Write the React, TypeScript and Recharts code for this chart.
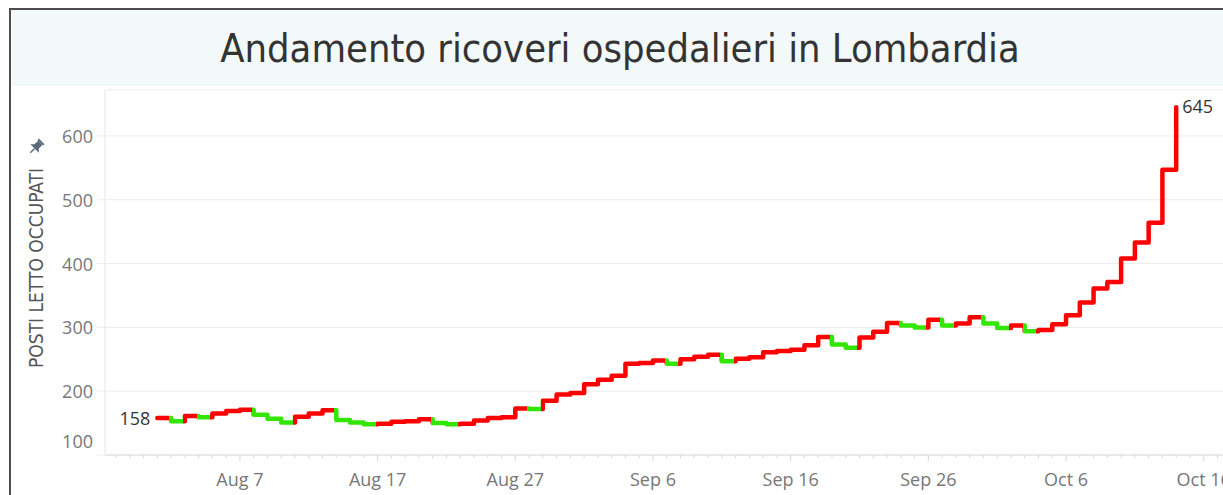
import { LineChart, Line, XAxis, YAxis, CartesianGrid } from 'recharts';

// posti letto occupati, un valore al giorno dal 1 agosto al 14 ottobre
const ricoveri = [
  158, 153, 161, 159, 165, 169, 171, 163, 157, 151, // Aug 1-10
  160, 165, 170, 155, 151, 148, 149, 152, 153, 156, // Aug 11-20
  150, 148, 149, 154, 158, 159, 173, 172, 185, 195, // Aug 21-30
  197, 211, 218, 224, 243, 244, 248, 243, 250, 254, // Aug 31 - Sep 9
  257, 247, 251, 253, 261, 263, 265, 272, 285, 273, // Sep 10-19
  268, 284, 293, 307, 303, 300, 312, 303, 306, 316, // Sep 20-29
  306, 299, 303, 294, 296, 305, 319, 339, 361, 371, // Sep 30 - Oct 9
  408, 433, 464, 547, 645, // Oct 10-14
];

// x = giorni dal 1 agosto
const majorTicks = [6, 16, 26, 36, 46, 56, 66, 76];
const majorLabels = ['Aug 7', 'Aug 17', 'Aug 27', 'Sep 6', 'Sep 16', 'Sep 26', 'Oct 6', 'Oct 16'];
const yTicks = [100, 200, 300, 400, 500, 600];

const X_DOMAIN: [number, number] = [-3.8, 77.4];
const minorTicks: number[] = [];
for (let d = -3; d <= 77; d++) minorTicks.push(d);

const RED = '#ff0000';
const GREEN = '#33e600';
const TICK_FONT = "'Open Sans', sans-serif";
const NARROW_FONT = "'Liberation Sans Narrow', 'DejaVu Sans Condensed', 'Open Sans', sans-serif";

const data = ricoveri.map((v, i) => ({ day: i, v }));
const last = ricoveri.length - 1;

// red when the value went up (or stayed), green when it went down
const segColors = ricoveri.map((v, i) => (i === 0 || v >= ricoveri[i - 1] ? RED : GREEN));

function XTick(props: any) {
  const { x, y, payload } = props;
  const idx = majorTicks.indexOf(payload.value);
  const major = idx >= 0;
  return (
    <g>
      <line x1={x} x2={x} y1={y} y2={y + (major ? 6 : 3)} stroke="#d9d9d9" strokeWidth={1} />
      {major && (
        <text
          x={x}
          y={y + 24}
          textAnchor="middle"
          dominantBaseline="central"
          fontSize={18}
          fontFamily={TICK_FONT}
          fill="#777"
        >
          {majorLabels[idx]}
        </text>
      )}
    </g>
  );
}

function YTick(props: any) {
  const { x, y, payload } = props;
  // Tableau pushes the bottom label up so it stays inside the pane
  const shift = payload.value === 100 ? -14 : 0;
  return (
    <text
      x={x}
      y={y + shift}
      textAnchor="end"
      dominantBaseline="central"
      fontSize={18}
      fontFamily={TICK_FONT}
      fill="#777"
    >
      {payload.value}
    </text>
  );
}

function EndLabel(props: any) {
  const { x, y, index, value } = props;
  if (index === 0) {
    return (
      <text x={x - 7} y={y} textAnchor="end" dominantBaseline="central" fontSize={18} fontFamily={TICK_FONT} fill="#333">
        {value}
      </text>
    );
  }
  if (index === last) {
    return (
      <text x={x + 6} y={y - 1} textAnchor="start" dominantBaseline="central" fontSize={18} fontFamily={TICK_FONT} fill="#333">
        {value}
      </text>
    );
  }
  return null;
}

function App() {
  const stops: JSX.Element[] = [];
  segColors.forEach((c, i) => {
    const from = i === 0 ? 0 : (i - 0.15) / last;
    const to = i === last ? 1 : (i + 1 - 0.15) / last;
    stops.push(<stop key={`a${i}`} offset={from} stopColor={c} />);
    stops.push(<stop key={`b${i}`} offset={to} stopColor={c} />);
  });

  return (
    <div style={{ position: 'relative', width: 1223, height: 495, overflow: 'hidden', background: '#fff' }}>
      <style>{'body{margin:0;overflow:hidden}'}</style>

      {/* title band */}
      <div
        style={{
          position: 'absolute',
          left: 12,
          top: 10,
          width: 1216,
          height: 76,
          background: '#f3f8f8',
          display: 'flex',
          alignItems: 'center',
          justifyContent: 'center',
          fontFamily: NARROW_FONT,
          fontSize: 39.5,
          color: '#333',
        }}
      >
        Andamento ricoveri ospedalieri in Lombardia
      </div>

      <div style={{ position: 'absolute', left: 0, top: 0 }}>
        <LineChart width={1223} height={495} data={data} margin={{ top: 90, right: 0, left: 0, bottom: 0 }}>
          <defs>
            <linearGradient id="trend" x1="0" y1="0" x2="1" y2="0">
              {stops}
            </linearGradient>
          </defs>
          <CartesianGrid vertical={false} stroke="#ececec" />
          <XAxis
            dataKey="day"
            type="number"
            domain={X_DOMAIN}
            allowDataOverflow
            ticks={minorTicks}
            interval={0}
            height={40}
            tickSize={0}
            tickMargin={0}
            tickLine={false}
            axisLine={{ stroke: '#dcdcdc' }}
            tick={<XTick />}
          />
          <YAxis
            type="number"
            domain={[100, 672]}
            ticks={yTicks}
            interval={0}
            width={105}
            tickSize={8}
            tickMargin={4}
            tickLine={{ stroke: '#ececec' }}
            axisLine={{ stroke: '#e6e6e6' }}
            tick={<YTick />}
          />
          <Line
            type="stepAfter"
            dataKey="v"
            stroke="url(#trend)"
            strokeWidth={4.5}
            strokeLinejoin="round"
            strokeLinecap="round"
            dot={false}
            activeDot={false}
            isAnimationActive={false}
            label={<EndLabel />}
          />
        </LineChart>
      </div>

      {/* frame */}
      <div
        style={{
          position: 'absolute',
          left: 9,
          top: 8,
          width: 1240,
          height: 500,
          borderLeft: '2px solid #4d4d4d',
          borderTop: '2px solid #4d4d4d',
          boxSizing: 'border-box',
          pointerEvents: 'none',
        }}
      />

      {/* axis title with pin */}
      <div
        style={{
          position: 'absolute',
          left: 36,
          top: 268,
          transform: 'translate(-50%, -50%) rotate(-90deg)',
          whiteSpace: 'nowrap',
          fontFamily: NARROW_FONT,
          fontSize: 19,
          color: '#555',
        }}
      >
        POSTI LETTO OCCUPATI
      </div>
      <svg width={18} height={18} style={{ position: 'absolute', left: 27, top: 138 }}>
        <g transform="rotate(45 9 9)" fill="#5b6a7b">
          <rect x={5} y={1} width={8} height={2} />
          <path d="M6 3 L12 3 L12 8 L15 11 L3 11 L6 8 Z" />
          <rect x={8.3} y={11} width={1.4} height={6} />
        </g>
      </svg>
    </div>
  );
}

export default App;
